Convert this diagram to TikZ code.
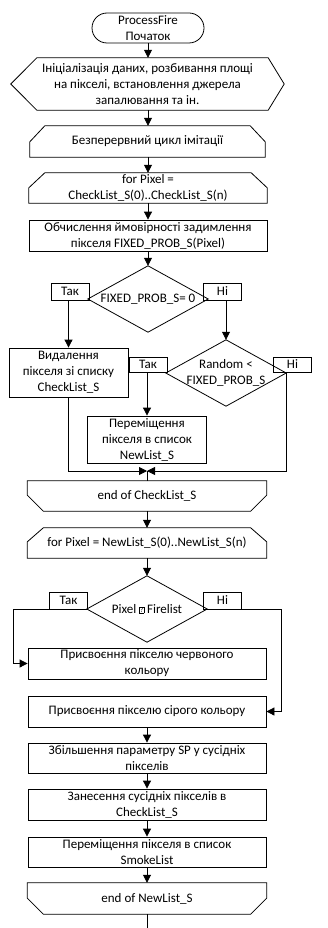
\documentclass[tikz,border=0pt]{standalone}
\usepackage{fontspec}
\setmainfont{Carlito}
\usetikzlibrary{arrows.meta,calc}
\begin{document}
\begin{tikzpicture}[x=1pt,y=-1pt,
  every node/.style={font=\fontsize{13}{16}\selectfont, align=center, inner sep=0pt},
  box/.style={draw, line width=0.8pt, minimum width=238pt, minimum height=31pt},
  lbl/.style={draw, line width=0.8pt, minimum width=38pt, minimum height=17pt},
  line/.style={line width=0.8pt},
  arr/.style={line width=0.8pt, -{Triangle[length=8pt,width=8pt]}},
]
\useasboundingbox (0,0) rectangle (327,928);

% start
\node[draw, line width=0.8pt, rounded corners=15pt, minimum width=112pt, minimum height=30pt] (start) at (148,28) {ProcessFire\\Початок};

% init (preparation hexagon)
\node[minimum width=273pt, minimum height=52pt] (init) at (147.5,84) {Ініціалізація даних, розбивання площі\\на пікселі, встановлення джерела\\запалювання та ін.};
\draw[line] (init.west) -- ($(init.north west)+(26,0)$) -- ($(init.north east)+(-16,0)$) -- (init.east) -- ($(init.south east)+(-16,0)$) -- ($(init.south west)+(26,0)$) -- cycle;

% loop start
\node[minimum width=235pt, minimum height=31pt] (loop) at (147.5,141.5) {Безперервний цикл імітації};
\draw[line] (loop.south west) -- ($(loop.north west)+(0,16)$) -- ($(loop.north west)+(15,0)$) -- ($(loop.north east)+(-15,0)$) -- ($(loop.north east)+(0,16)$) -- (loop.south east) -- cycle;

% for 1
\node[minimum width=238pt, minimum height=30pt] (for1) at (148,188) {for Pixel =\\CheckList\_S(0)..CheckList\_S(n)};
\draw[line] (for1.south west) -- ($(for1.north west)+(0,15)$) -- ($(for1.north west)+(16,0)$) -- ($(for1.north east)+(-16,0)$) -- ($(for1.north east)+(0,15)$) -- (for1.south east) -- cycle;

% calc
\node[box] (calc) at (148,235.5) {Обчислення ймовірності задимлення\\пікселя FIXED\_PROB\_S(Pixel)};

% diamond 1
\node[minimum width=120pt, minimum height=66pt] (d1) at (148,299) {FIXED\_PROB\_S= 0};
\draw[line] (d1.north) -- (d1.east) -- (d1.south) -- (d1.west) -- cycle;
\node[lbl] (t1) at (70,291.5) {Так};
\node[lbl] (n1) at (222.5,291.5) {Ні};

% delete
\node[draw, line width=0.8pt, minimum width=119pt, minimum height=49pt] (del) at (68.5,372.5) {Видалення\\пікселя зі списку\\CheckList\_S};

% diamond 2
\node[minimum width=120pt, minimum height=66pt] (d2) at (226,373) {Random <\\FIXED\_PROB\_S};
\draw[line] (d2.north) -- (d2.east) -- (d2.south) -- (d2.west) -- cycle;
\node[lbl, minimum height=15pt] (t2) at (148,364.5) {Так};
\node[lbl, minimum height=15pt] (n2) at (292.5,364.5) {Ні};

% move
\node[draw, line width=0.8pt, minimum width=119pt, minimum height=47pt] (mov) at (147,439.5) {Переміщення\\пікселя в список\\NewList\_S};

\coordinate (merge) at (147,471);

% end 1
\node[minimum width=239pt, minimum height=30pt] (end1) at (147,496) {end of CheckList\_S};
\draw[line] (end1.north west) -- ($(end1.south west)+(0,-16)$) -- ($(end1.south west)+(16,0)$) -- ($(end1.south east)+(-16,0)$) -- ($(end1.south east)+(0,-16)$) -- (end1.north east) -- cycle;

% for 2
\node[minimum width=239pt, minimum height=30pt] (for2) at (147,543) {for Pixel = NewList\_S(0)..NewList\_S(n)};
\draw[line] (for2.south west) -- ($(for2.north west)+(0,14)$) -- ($(for2.north west)+(16,0)$) -- ($(for2.north east)+(-16,0)$) -- ($(for2.north east)+(0,14)$) -- (for2.south east) -- cycle;

% diamond 3
\node[minimum width=120pt, minimum height=66pt] (d3) at (147,609) {Pixel {\fontsize{7}{7}\selectfont\setlength\fboxsep{0.4pt}\setlength\fboxrule{0.4pt}\raisebox{0.5pt}{\fbox{?}}} Firelist};
\draw[line] (d3.north) -- (d3.east) -- (d3.south) -- (d3.west) -- cycle;
\node[lbl] (t3) at (68.5,600.5) {Так};
\node[lbl] (n3) at (222.5,600.5) {Ні};
\coordinate (lt) at (13,609);
\coordinate (rt) at (281,609);

% lower boxes
\node[box] (red) at (147,663.5) {Присвоєння пікселю червоного\\кольору};
\node[box] (grey) at (147,711.5) {Присвоєння пікселю сірого кольору};
\node[box, minimum height=30pt] (sp) at (147,758) {Збільшення  параметру SP у сусідніх\\пікселів};
\node[box] (zan) at (147,804.5) {Занесення сусідніх пікселів в\\CheckList\_S};
\node[box, minimum height=30pt] (smoke) at (147,852) {Переміщення пікселя в список\\SmokeList};

% end 2
\node[minimum width=239pt, minimum height=31pt] (end2) at (147,898.5) {end of NewList\_S};
\draw[line] (end2.north west) -- ($(end2.south west)+(0,-16)$) -- ($(end2.south west)+(16,0)$) -- ($(end2.south east)+(-16,0)$) -- ($(end2.south east)+(0,-16)$) -- (end2.north east) -- cycle;
\coordinate (fin) at (147,928);

% connectors
\draw[arr] (start.south) -- (start.south |- init.north);
\draw[arr] (start.south |- init.south) -- (start.south |- loop.north);
\draw[arr] (start.south |- loop.south) -- (start.south |- for1.north);
\draw[arr] (for1.south) -- (calc.north);
\draw[arr] (calc.south) -- (d1.north);
\draw[arr] (t1.south -| del.north) -- (del.north);
\draw[arr] (d2.north |- n1.south) -- (d2.north);
\draw[arr] (mov.north |- t2.south) -- (mov.north);
\draw[arr] (del.south) -- (del.south |- merge) -- (merge);
\draw[arr] (d2.east) -- (d2.east |- merge) -- (merge);
\draw[line] (merge) -- (merge |- end1.north);
\draw[arr] (end1.south) -- (for2.north);
\draw[arr] (for2.south) -- (d3.north);
\draw[arr] (d3.west) -- (lt) -- (lt |- red.west) -- (red.west);
\draw[arr] (d3.east) -- (rt) -- (rt |- grey.east) -- (grey.east);
\draw[arr] (grey.south) -- (sp.north);
\draw[arr] (sp.south) -- (zan.north);
\draw[arr] (zan.south) -- (smoke.north);
\draw[arr] (smoke.south) -- (end2.north);
\draw[line] (end2.south) -- (fin);
\end{tikzpicture}
\end{document}
